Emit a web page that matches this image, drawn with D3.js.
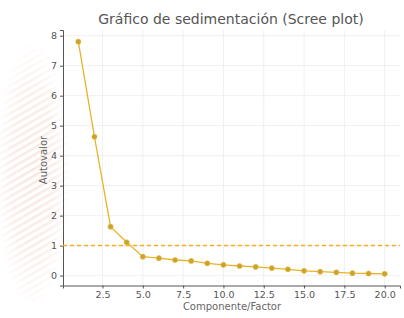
<!DOCTYPE html>
<html><head><meta charset="utf-8">
<script src="https://cdn.jsdelivr.net/npm/d3@7"></script>
<style>html,body{margin:0;padding:0;background:#fff;}svg{display:block;font-family:"DejaVu Sans",sans-serif;}</style>
</head><body>
<svg id="c" width="404" height="318"></svg>
<script>
const components = [1,2,3,4,5,6,7,8,9,10,11,12,13,14,15,16,17,18,19,20];
const eigenvalues = [7.8,4.63,1.63,1.11,0.63,0.58,0.52,0.49,0.41,0.36,0.32,0.29,0.25,0.21,0.16,0.13,0.11,0.08,0.07,0.06];
const xTicks = [2.5,5.0,7.5,10.0,12.5,15.0,17.5,20.0];
const yTicks = [0,1,2,3,4,5,6,7,8];
const threshold = 1;
const title = "Gráfico de sedimentación (Scree plot)";
const xLabel = "Componente/Factor";
const yLabel = "Autovalor";

const svg = d3.select("#c");
const L = 63, R = 400, T = 30, B = 285.5;

// faint decorative stripes at left
const defs = svg.append("defs");
const pat = defs.append("pattern").attr("id","st").attr("width",6).attr("height",6)
  .attr("patternUnits","userSpaceOnUse").attr("patternTransform","rotate(-30)");
pat.append("rect").attr("width",6).attr("height",2.5).attr("fill","#f1d2c4");
const rg = defs.append("radialGradient").attr("id","fade").attr("cx","0.5").attr("cy","0.5").attr("r","0.5");
rg.append("stop").attr("offset","0%").attr("stop-color","#fff").attr("stop-opacity",1);
rg.append("stop").attr("offset","60%").attr("stop-color","#fff").attr("stop-opacity",0.7);
rg.append("stop").attr("offset","100%").attr("stop-color","#fff").attr("stop-opacity",0);
const mask = defs.append("mask").attr("id","m");
mask.append("rect").attr("x",-5).attr("y",40).attr("width",75).attr("height",270).attr("fill","url(#fade)");
svg.append("rect").attr("x",-5).attr("y",40).attr("width",75).attr("height",270)
  .attr("fill","url(#st)").attr("opacity",0.55).attr("mask","url(#m)");

const x = d3.scaleLinear().domain([0.05,20.95]).range([L,R]);
const y = d3.scaleLinear().domain([-0.33,8.19]).range([B,T]);

// grid
svg.append("g").selectAll("line").data(xTicks).join("line")
  .attr("x1",d=>x(d)).attr("x2",d=>x(d)).attr("y1",T).attr("y2",B)
  .attr("stroke","#ececec").attr("stroke-width",0.8);
svg.append("g").selectAll("line").data(yTicks).join("line")
  .attr("x1",L).attr("x2",R).attr("y1",d=>y(d)).attr("y2",d=>y(d))
  .attr("stroke","#ececec").attr("stroke-width",0.8);

// axes
const xAxis = d3.axisBottom(x).tickValues(xTicks).tickFormat(d3.format(".1f")).tickSize(3).tickPadding(3);
const yAxis = d3.axisLeft(y).tickValues(yTicks).tickFormat(d3.format("d")).tickSize(3).tickPadding(3);
const gx = svg.append("g").attr("transform",`translate(0,${B})`).call(xAxis);
const gy = svg.append("g").attr("transform",`translate(${L},0)`).call(yAxis);
[gx,gy].forEach(g=>{
  g.select(".domain").attr("stroke","#555").attr("stroke-width",1);
  g.selectAll(".tick line").attr("stroke","#555");
  g.selectAll(".tick text").attr("fill","#555").attr("font-size",9.5).attr("font-family","DejaVu Sans, sans-serif");
});

// threshold dashed line
svg.append("line").attr("x1",L).attr("x2",R).attr("y1",y(threshold)).attr("y2",y(threshold))
  .attr("stroke","#f5b018").attr("stroke-width",1.5).attr("stroke-dasharray","4,3");

// line + markers
const line = d3.line().x((d,i)=>x(components[i])).y(d=>y(d));
svg.append("path").datum(eigenvalues).attr("d",line).attr("fill","none")
  .attr("stroke","#e8b32a").attr("stroke-width",1.3);
svg.append("g").selectAll("circle").data(eigenvalues).join("circle")
  .attr("cx",(d,i)=>x(components[i])).attr("cy",d=>y(d)).attr("r",2.6)
  .attr("fill","#c9a230").attr("stroke","#e8c040").attr("stroke-width",0.6);

// texts
svg.append("text").attr("x",231).attr("y",24).attr("text-anchor","middle")
  .attr("font-size",14).attr("fill","#555").text(title);
svg.append("text").attr("x",232).attr("y",310).attr("text-anchor","middle")
  .attr("font-size",10).attr("fill","#666").text(xLabel);
svg.append("text").attr("transform",`translate(47,160) rotate(-90)`).attr("text-anchor","middle")
  .attr("font-size",10).attr("fill","#666").text(yLabel);
</script>
</body></html>
